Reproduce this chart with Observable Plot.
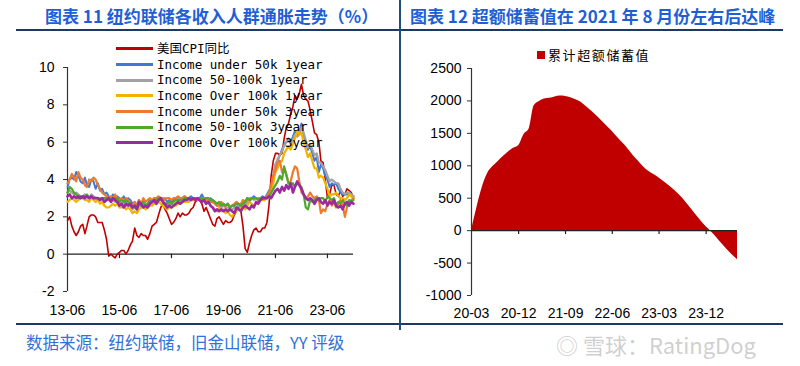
<!DOCTYPE html>
<html><head><meta charset="utf-8">
<script src="https://cdn.jsdelivr.net/npm/d3@7"></script>
<script src="https://cdn.jsdelivr.net/npm/@observablehq/plot@0.6"></script>
<style>
body{margin:0;background:#fff;}
#wrap{position:relative;width:800px;height:366px;overflow:hidden;background:#fff;font-family:"Liberation Sans",Arial,sans-serif;}
.title{position:absolute;top:3px;font-family:"Noto Sans CJK SC",sans-serif;font-weight:bold;font-size:17px;color:#1F5FD6;white-space:nowrap;}
.hl{position:absolute;height:2px;background:#203864;}
#lg{position:absolute;left:116px;top:41px;font-family:"DejaVu Sans Mono","Noto Sans CJK SC",monospace;font-size:12.5px;color:#000;}
#lg div{height:15.7px;line-height:15.7px;white-space:pre;display:flex;align-items:center;}
#lg span.sw{display:inline-block;width:37px;height:3px;margin-right:4px;}
#lg2{position:absolute;left:537px;top:45px;font-family:"Noto Sans CJK SC",serif;font-size:13px;letter-spacing:1.6px;display:flex;align-items:center;}
#lg2 span.sq{display:inline-block;width:8px;height:8px;background:#C00000;margin-right:3px;}
.plotbox{position:absolute;top:40px;}
#src{position:absolute;left:26px;top:330px;font-family:"Noto Sans CJK SC",sans-serif;font-size:16.5px;color:#2F72D8;white-space:nowrap;}
#wm{position:absolute;left:556px;top:328px;font-family:"Noto Sans CJK SC",sans-serif;font-size:22px;color:rgba(130,130,130,0.4);white-space:nowrap;}
</style></head>
<body><div id="wrap">
<div class="title" style="left:45px">图表 11 纽约联储各收入人群通胀走势（%）</div>
<div class="title" style="left:410px">图表 12 超额储蓄值在 2021 年 8 月份左右后达峰</div>
<div class="hl" style="left:16px;top:29px;width:384px"></div>
<div class="hl" style="left:400px;top:29px;width:383px"></div>
<div class="hl" style="left:16px;top:323px;width:767px"></div>
<div style="position:absolute;left:399px;top:0;width:2px;height:330px;background:#1F4E79"></div>
<div id="left" class="plotbox" style="left:0"></div>
<div id="right" class="plotbox" style="left:400px"></div>
<div id="lg"></div>
<div id="lg2"><span class="sq"></span>累计超额储蓄值</div>
<div id="src">数据来源：纽约联储，旧金山联储，YY 评级</div>
<div id="wm">◎ 雪球：RatingDog</div>
</div>
<script>
// ---------- Left chart data: monthly, 2013-06 .. 2024-06 ----------
const leftStart = "2013-06";
const leftTickLabels = ["13-06","15-06","17-06","19-06","21-06","23-06"];
const leftYTicks = [-2,0,2,4,6,8,10];
const seriesNames = ["美国CPI同比","Income under 50k 1year","Income 50-100k 1year","Income Over 100k 1year","Income under 50k 3year","Income 50-100k 3year","Income Over 100k 3year"];
const seriesColors = ["#C00000","#3F78D6","#A2A2A2","#F2B300","#F07A2C","#4FA82E","#9A2AA0"];
const seriesWidths = [1.6,2,2.2,2.2,2.2,2.2,2.6];

const cpi = [1.8,2.0,1.5,1.2,1.0,1.2,1.5,
1.6,1.1,1.5,2.0,2.1,2.1,2.0,1.7,1.7,1.7,1.3,0.8,
-0.1,0.0,-0.1,-0.2,0.0,0.1,0.2,0.2,0.0,0.2,0.5,0.7,
1.4,1.0,0.9,1.1,1.0,1.0,0.8,1.1,1.5,1.6,1.7,2.1,
2.5,2.7,2.4,2.2,1.9,1.6,1.7,1.9,2.2,2.0,2.2,2.1,
2.1,2.2,2.4,2.5,2.8,2.9,2.9,2.7,2.3,2.5,2.2,1.9,
1.6,1.5,1.9,2.0,1.8,1.6,1.8,1.7,1.7,1.8,2.1,2.3,
2.5,2.3,1.5,0.3,0.1,0.6,1.0,1.3,1.4,1.2,1.2,1.4,
1.4,1.7,2.6,4.2,5.0,5.4,5.4,5.3,5.4,6.2,6.8,7.0,
7.5,7.9,8.5,8.3,8.6,9.1,8.5,8.3,8.2,7.7,7.1,6.5,
6.4,6.0,5.0,4.9,4.0,3.0,3.2,3.7,3.7,3.2,3.1,3.4,
3.1,3.2,3.5,3.4,3.3,3.0];

const under50k1y = [3.6,4.0,4.1,4.0,4.4,4.2,3.9,
3.8,4.1,3.7,3.6,4.0,3.9,3.5,3.8,3.4,3.5,3.2,3.3,
3.1,3.0,3.2,3.0,3.1,3.0,2.9,3.1,2.8,3.0,2.9,2.7,
2.8,2.6,2.9,2.7,2.8,2.6,2.7,2.9,2.8,3.0,2.9,3.0,
3.0,2.9,3.0,2.8,2.9,2.8,2.9,3.0,2.9,3.0,3.0,3.1,
3.0,3.0,3.1,3.0,3.0,3.0,3.0,3.2,3.0,3.0,2.9,3.0,
2.9,2.8,2.7,2.7,2.6,2.7,2.6,2.7,2.5,2.6,2.6,2.7,
2.6,2.5,2.6,2.7,3.0,2.8,3.0,3.1,3.0,3.0,3.0,3.1,
3.0,3.2,3.4,3.6,4.1,4.8,5.0,5.3,5.6,5.9,6.0,6.2,
6.0,6.3,6.6,6.4,6.5,7.0,6.4,6.0,5.6,5.8,5.4,5.0,
5.2,4.4,4.8,4.6,4.2,4.0,3.6,3.8,3.7,3.8,3.5,3.3,
3.2,3.2,3.2,3.3,3.2,3.1];

const mid1y = [3.3,3.4,3.3,3.2,3.3,3.2,3.1,
3.1,3.2,3.1,3.0,3.2,3.1,3.0,3.0,3.0,3.0,3.0,2.9,
2.9,2.8,2.9,2.8,3.0,2.8,2.7,2.8,2.6,2.7,2.6,2.4,
2.5,2.4,2.6,2.5,2.6,2.5,2.6,2.7,2.7,2.8,2.9,2.9,
2.9,2.8,2.7,2.7,2.6,2.7,2.6,2.7,2.8,2.8,2.9,2.9,
2.9,2.9,3.0,3.0,2.9,3.0,3.0,3.0,3.0,2.9,3.0,2.9,
2.8,2.7,2.6,2.7,2.5,2.6,2.5,2.5,2.4,2.4,2.5,2.5,
2.6,2.7,2.9,2.6,2.8,3.0,3.0,2.9,3.0,3.0,3.0,3.0,
3.0,3.1,3.2,3.5,4.2,4.8,5.1,5.3,5.5,5.8,6.0,6.1,
5.9,6.1,6.4,6.3,6.4,6.8,6.5,6.1,5.7,5.9,5.6,5.3,
5.4,4.9,4.9,4.7,4.5,4.2,3.9,4.0,3.9,3.8,3.8,3.5,
3.3,3.2,3.3,3.3,3.2,3.1];

const over100k1y = [2.8,2.9,3.0,2.9,2.8,2.9,3.0,
3.0,2.9,2.9,2.8,3.0,2.9,2.8,2.9,2.7,2.8,2.6,2.5,
2.5,2.6,2.7,2.6,2.7,2.5,2.5,2.6,2.4,2.5,2.4,2.2,
2.3,2.2,2.4,2.5,2.6,2.4,2.5,2.6,2.6,2.7,2.7,2.8,
2.7,2.6,2.5,2.4,2.5,2.5,2.6,2.6,2.7,2.7,2.8,2.8,
2.8,2.8,2.9,2.9,2.9,3.0,3.0,2.9,2.9,2.8,2.8,2.6,
2.5,2.4,2.3,2.5,2.3,2.4,2.2,2.3,2.1,2.0,2.2,2.3,
2.4,2.5,2.6,2.4,2.6,2.8,2.7,2.6,2.7,2.8,2.9,2.9,
2.9,3.0,3.0,3.3,3.8,4.4,4.6,4.9,5.0,5.4,5.6,5.8,
5.6,5.9,6.2,6.6,6.4,6.5,6.0,5.6,5.2,5.4,5.0,4.6,
4.6,4.1,4.2,4.1,3.8,3.5,3.1,3.2,3.2,3.3,3.1,3.0,
3.0,2.9,3.0,3.2,3.1,3.0];

const under50k3y = [3.8,4.0,4.3,4.1,3.9,4.4,4.1,
4.0,3.7,3.6,4.0,3.9,4.1,4.0,3.7,3.5,3.3,3.2,3.1,
3.0,3.1,3.0,3.2,3.0,2.9,3.0,2.8,3.0,2.9,2.7,2.6,
2.8,2.6,2.9,2.7,3.0,2.8,2.9,3.0,2.9,3.0,3.0,3.1,
3.0,3.0,2.9,3.0,3.0,2.9,3.0,3.0,3.1,3.0,3.0,3.1,
3.0,3.0,3.0,3.0,3.0,2.9,3.0,3.0,3.0,2.8,2.9,2.8,
2.8,2.7,2.6,2.6,2.8,2.6,2.6,2.7,2.5,2.6,2.7,2.8,
2.7,2.6,2.9,2.8,3.0,2.9,3.0,3.0,3.0,2.9,3.0,3.0,
3.0,3.1,3.3,3.7,4.2,4.5,4.9,5.0,4.4,4.6,4.3,3.8,
3.9,4.4,4.7,4.6,3.9,3.3,3.2,3.0,3.1,3.3,3.1,3.0,
3.1,2.9,2.2,2.4,2.3,2.7,2.9,2.6,2.8,2.5,2.7,2.9,
2.6,2.0,2.5,2.8,2.9,3.0];

const mid3y = [3.3,3.6,3.5,3.3,3.2,3.0,3.1,
3.0,3.1,3.2,3.0,3.1,3.0,3.0,3.0,2.9,3.0,3.0,3.0,
3.0,2.9,3.0,2.9,3.0,2.8,2.9,2.8,2.9,2.8,2.6,2.5,
2.6,2.5,2.7,2.6,2.8,2.6,2.7,2.8,2.8,2.9,2.9,3.0,
2.9,2.8,2.7,2.7,2.8,2.7,2.8,2.9,2.9,2.9,2.9,3.0,
3.0,3.0,3.0,3.0,3.0,3.0,3.0,3.0,2.9,3.0,3.0,2.9,
2.9,2.8,2.7,2.8,2.6,2.7,2.6,2.7,2.5,2.6,2.6,2.7,
2.7,2.6,2.7,2.8,3.0,2.9,3.0,3.0,3.0,2.9,3.0,3.0,
3.0,3.0,3.1,3.3,3.5,3.7,3.9,4.2,4.0,4.7,4.2,3.8,
3.7,3.8,3.6,3.8,3.7,3.6,3.2,2.5,2.4,2.9,2.8,2.9,
3.0,2.9,3.0,3.0,2.8,3.1,3.0,2.9,3.0,2.6,2.8,2.7,
2.9,2.7,2.6,2.9,2.8,2.9];

const over100k3y = [3.1,3.2,3.0,3.1,3.0,3.1,3.0,
3.1,3.0,3.1,3.0,3.1,3.0,3.0,3.0,2.9,3.0,2.8,2.9,
3.0,2.8,3.0,2.9,2.8,2.6,2.7,2.5,2.7,2.6,2.7,2.5,
2.6,2.4,2.8,2.7,2.5,2.6,2.5,2.7,2.8,2.9,2.7,2.9,
3.0,2.8,2.7,2.5,2.6,2.5,2.6,2.7,2.8,2.7,2.8,2.9,
2.9,3.0,2.9,3.0,2.9,3.0,2.9,2.8,2.9,2.7,2.8,2.6,
2.5,2.3,2.4,2.3,2.4,2.3,2.4,2.3,2.4,2.3,2.2,2.5,
2.4,2.3,2.5,2.6,2.5,2.4,2.6,2.5,2.8,2.7,2.9,3.0,
3.0,3.0,3.1,3.0,3.2,3.4,3.5,3.3,3.6,3.4,3.7,3.5,
3.8,3.3,3.6,3.9,3.7,3.5,3.2,3.0,2.9,3.0,2.9,2.7,
2.9,3.0,2.8,2.7,2.9,2.6,2.8,2.7,2.9,2.6,2.5,2.6,
2.4,2.7,2.8,2.6,2.8,2.7];

// ---------- Right chart data: monthly, 2020-03 .. 2024-06 ----------
const rightStart = "2020-03";
const rightTickLabels = ["20-03","20-12","21-09","22-06","23-03","23-12"];
const rightYTicks = [-1000,-500,0,500,1000,1500,2000,2500];
const excessSavingsName = "累计超额储蓄值";
const excessSavings = [0,350,650,870,980,1060,1140,1210,1270,1310,1480,1570,
1920,1990,2030,2040,2060,2075,2070,2050,2020,1980,1910,1840,
1770,1690,1610,1530,1440,1350,1260,1160,1070,980,910,860,
810,750,690,620,540,450,350,250,150,60,-20,-110,
-200,-290,-370,-450];

// ---------- build ----------
const parseYM = s => new Date(Date.UTC(+s.slice(0,4), +s.slice(5,7)-1, 1));
const parseLbl = s => new Date(Date.UTC(2000 + +s.slice(0,2), +s.slice(3,5)-1, 1));
function months(start, n){ const d0 = parseYM(start); return d3.range(n).map(i => d3.utcMonth.offset(d0, i)); }

const allSeries = [cpi, under50k1y, mid1y, over100k1y, under50k3y, mid3y, over100k3y];
const lDates = months(leftStart, cpi.length);
const lRows = [];
allSeries.forEach((arr, k) => arr.forEach((v, i) => lRows.push({date: lDates[i], value: v, series: seriesNames[k]})));
const lTicks = leftTickLabels.map(parseLbl);
const fmt = d3.utcFormat("%y-%m");

const leftPlot = Plot.plot({
  width: 400, height: 285,
  marginLeft: 67, marginRight: 47, marginTop: 27, marginBottom: 34,
  style: {fontFamily: "'Liberation Sans', Arial, sans-serif", fontSize: "14px", color: "#000", background: "transparent", overflow: "visible"},
  x: {type: "utc", domain: [lDates[0], lDates[lDates.length-1]], label: null},
  y: {domain: [-2, 10], label: null},
  marks: [
    Plot.axisY({ticks: leftYTicks, tickSize: 4, tickPadding: 9, tickFormat: d => String(d), stroke: "#333", fontSize: 14, label: null}),
    Plot.axisX({ticks: lTicks, tickSize: 0, tickPadding: 14, tickFormat: fmt, anchor: "bottom", fontSize: 14, label: null}),
    Plot.ruleX([lDates[0]], {stroke: "#333", strokeWidth: 1.2}),
    Plot.ruleY([0], {stroke: "#222", strokeWidth: 1.2}),
    Plot.ruleX(lTicks.slice(1), {y1: 0, y2: -0.24, stroke: "#222", strokeWidth: 1.2}),
    ...seriesNames.map((name, k) => Plot.line(lRows.filter(r => r.series === name), {
      x: "date", y: "value", stroke: seriesColors[k], strokeWidth: seriesWidths[k], strokeLinejoin: "round"
    }))
  ]
});
document.getElementById("left").appendChild(leftPlot);

const rDates = months(rightStart, excessSavings.length);
const rRows = excessSavings.map((v, i) => ({date: rDates[i], value: v, series: excessSavingsName}));
const rTicks = rightTickLabels.map(parseLbl);
const rightPlot = Plot.plot({
  width: 400, height: 285,
  marginLeft: 71, marginRight: 63, marginTop: 28, marginBottom: 30,
  style: {fontFamily: "'Liberation Sans', Arial, sans-serif", fontSize: "14px", color: "#000", background: "transparent", overflow: "visible"},
  x: {type: "utc", domain: [rDates[0], rDates[rDates.length-1]], label: null},
  y: {domain: [-1000, 2500], label: null},
  marks: [
    Plot.areaY(rRows, {x: "date", y: "value", fill: "#C00000", curve: "monotone-x"}),
    Plot.axisY({ticks: rightYTicks, tickSize: 4, tickPadding: 6, tickFormat: d => String(d), stroke: "#333", fontSize: 14, label: null}),
    Plot.axisX({ticks: rTicks, tickSize: 0, tickPadding: 13, tickFormat: fmt, anchor: "bottom", fontSize: 14, label: null}),
    Plot.ruleX([rDates[0]], {stroke: "#333", strokeWidth: 1.2}),
    Plot.ruleY([0], {stroke: "#222", strokeWidth: 1.2}),
    Plot.ruleX(rTicks.slice(1), {y1: 0, y2: -60, stroke: "#222", strokeWidth: 1.2})
  ]
});
document.getElementById("right").appendChild(rightPlot);

// legend (left)
const lg = document.getElementById("lg");
seriesNames.forEach((n, k) => {
  const row = document.createElement("div");
  const sw = document.createElement("span"); sw.className = "sw"; sw.style.background = seriesColors[k];
  row.appendChild(sw); row.appendChild(document.createTextNode(n));
  lg.appendChild(row);
});
</script>
</body></html>
